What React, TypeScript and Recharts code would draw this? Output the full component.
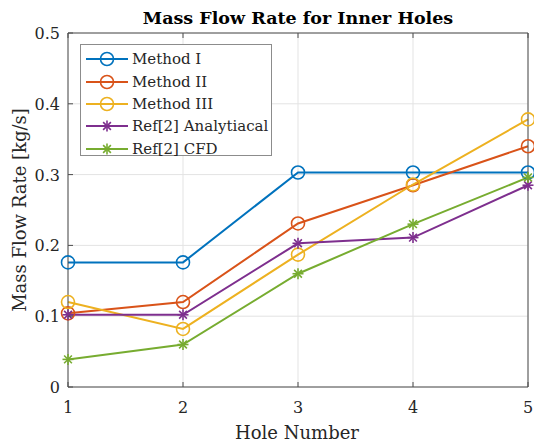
import React from 'react';
import {
  LineChart, Line, XAxis, YAxis, CartesianGrid,
} from 'recharts';

// Mass flow rate [kg/s] per hole, five inner holes
const holes = [1, 2, 3, 4, 5];
const methodI = [0.176, 0.176, 0.303, 0.303, 0.303];
const methodII = [0.104, 0.12, 0.231, 0.285, 0.34];
const methodIII = [0.12, 0.082, 0.187, 0.286, 0.378];
const refAnalytical = [0.102, 0.102, 0.203, 0.211, 0.285];
const refCfd = [0.039, 0.06, 0.16, 0.23, 0.296];

const yTicks = [0, 0.1, 0.2, 0.3, 0.4, 0.5];
const yTickLabels = ['0', '0.1', '0.2', '0.3', '0.4', '0.5'];

const FONT = '"DejaVu Serif", serif';
const AXIS = '#4d4d4d';

type MarkerKind = 'circle' | 'star';

interface Series {
  key: string;
  name: string;
  color: string;
  marker: MarkerKind;
  values: number[];
}

const series: Series[] = [
  { key: 'm1', name: 'Method I', color: '#0072BD', marker: 'circle', values: methodI },
  { key: 'm2', name: 'Method II', color: '#D95319', marker: 'circle', values: methodII },
  { key: 'm3', name: 'Method III', color: '#EDB120', marker: 'circle', values: methodIII },
  { key: 'ra', name: 'Ref[2] Analytiacal', color: '#7E2F8E', marker: 'star', values: refAnalytical },
  { key: 'rc', name: 'Ref[2] CFD', color: '#77AC30', marker: 'star', values: refCfd },
];

const data = holes.map((h, i) => {
  const row: Record<string, number> = { hole: h };
  series.forEach((s) => { row[s.key] = s.values[i]; });
  return row;
});

function MarkerShape({ cx, cy, color, kind }: { cx: number; cy: number; color: string; kind: MarkerKind }) {
  if (kind === 'circle') {
    return <circle cx={cx} cy={cy} r={6.5} fill="none" stroke={color} strokeWidth={1.6} />;
  }
  const r = 5.5;
  const d = r * 0.7071;
  return (
    <g stroke={color} strokeWidth={1.6}>
      <line x1={cx - r} y1={cy} x2={cx + r} y2={cy} />
      <line x1={cx} y1={cy - r} x2={cx} y2={cy + r} />
      <line x1={cx - d} y1={cy - d} x2={cx + d} y2={cy + d} />
      <line x1={cx - d} y1={cy + d} x2={cx + d} y2={cy - d} />
    </g>
  );
}

const makeDot = (s: Series) => (props: any) => {
  const { cx, cy, index } = props;
  if (cx == null || cy == null) return <g key={index} />;
  return <MarkerShape key={index} cx={cx} cy={cy} color={s.color} kind={s.marker} />;
};

// tick renderers: labels outside, short tick marks pointing into the plot
const bottomTick = (props: any) => {
  const { x, y, payload } = props;
  return (
    <g>
      <line x1={x} y1={y} x2={x} y2={y - 5} stroke={AXIS} />
      <text x={x} y={y + 26} textAnchor="middle" fontFamily={FONT} fontSize={16} fill="#262626">
        {payload.value}
      </text>
    </g>
  );
};

const topTick = (props: any) => {
  const { x, y } = props;
  return <line x1={x} y1={y} x2={x} y2={y + 5} stroke={AXIS} />;
};

const leftTick = (props: any) => {
  const { x, y, payload, index } = props;
  return (
    <g>
      <line x1={x} y1={y} x2={x + 5} y2={y} stroke={AXIS} />
      <text x={x - 8} y={y + 6} textAnchor="end" fontFamily={FONT} fontSize={16} fill="#262626">
        {yTickLabels[index] ?? payload.value}
      </text>
    </g>
  );
};

const rightTick = (props: any) => {
  const { x, y } = props;
  return <line x1={x} y1={y} x2={x - 5} y2={y} stroke={AXIS} />;
};

function LegendBox() {
  return (
    <div
      style={{
        position: 'absolute', left: 80, top: 44, width: 192, height: 112,
        background: '#fff', border: '1px solid #8c8c8c', boxSizing: 'border-box',
        padding: '3px 0 0 4px',
      }}
    >
      {series.map((s) => (
        <div key={s.key} style={{ display: 'flex', alignItems: 'center', height: 22.4 }}>
          <svg width={44} height={16} style={{ flexShrink: 0 }}>
            <line x1={1} y1={8} x2={43} y2={8} stroke={s.color} strokeWidth={2} />
            <MarkerShape cx={22} cy={8} color={s.color} kind={s.marker} />
          </svg>
          <span style={{ fontFamily: FONT, fontSize: 15, color: '#262626', marginLeft: 3, whiteSpace: 'nowrap' }}>
            {s.name}
          </span>
        </div>
      ))}
    </div>
  );
}

export default function App() {
  return (
    <div style={{ position: 'absolute', left: 0, top: 0, width: 534, height: 443, background: '#fff' }}>
      <LineChart
        width={534}
        height={443}
        data={data}
        margin={{ top: 32, right: 5, bottom: 55, left: 67 }}
      >
        <CartesianGrid stroke="#e3e3e3" strokeWidth={1} />
        <XAxis
          dataKey="hole"
          type="number"
          domain={[1, 5]}
          ticks={holes}
          height={1}
          tickSize={0}
          tickMargin={0}
          tickLine={false}
          stroke={AXIS}
          tick={bottomTick}
        />
        <XAxis
          xAxisId="top"
          orientation="top"
          dataKey="hole"
          type="number"
          domain={[1, 5]}
          ticks={holes}
          height={1}
          tickSize={0}
          tickMargin={0}
          tickLine={false}
          stroke={AXIS}
          tick={topTick}
        />
        <YAxis
          type="number"
          domain={[0, 0.5]}
          ticks={yTicks}
          width={1}
          tickSize={0}
          tickMargin={0}
          tickLine={false}
          stroke={AXIS}
          tick={leftTick}
        />
        <YAxis
          yAxisId="right"
          orientation="right"
          type="number"
          domain={[0, 0.5]}
          ticks={yTicks}
          width={1}
          tickSize={0}
          tickMargin={0}
          tickLine={false}
          stroke={AXIS}
          tick={rightTick}
        />
        {series.map((s) => (
          <Line
            key={s.key}
            dataKey={s.key}
            name={s.name}
            stroke={s.color}
            strokeWidth={2}
            dot={makeDot(s)}
            activeDot={false}
            isAnimationActive={false}
          />
        ))}
      </LineChart>

      <svg
        width={534}
        height={443}
        style={{ position: 'absolute', left: 0, top: 0, pointerEvents: 'none' }}
      >
        <text x={298} y={24} textAnchor="middle" fontFamily={FONT} fontSize={17.5} fontWeight="bold" fill="#000">
          Mass Flow Rate for Inner Holes
        </text>
        <text x={297} y={439} textAnchor="middle" fontFamily={FONT} fontSize={18} fill="#262626">
          Hole Number
        </text>
        <text
          x={0}
          y={0}
          transform="translate(26 210) rotate(-90)"
          textAnchor="middle"
          fontFamily={FONT}
          fontSize={18}
          fill="#262626"
        >
          Mass Flow Rate [kg/s]
        </text>
      </svg>

      <LegendBox />
    </div>
  );
}
